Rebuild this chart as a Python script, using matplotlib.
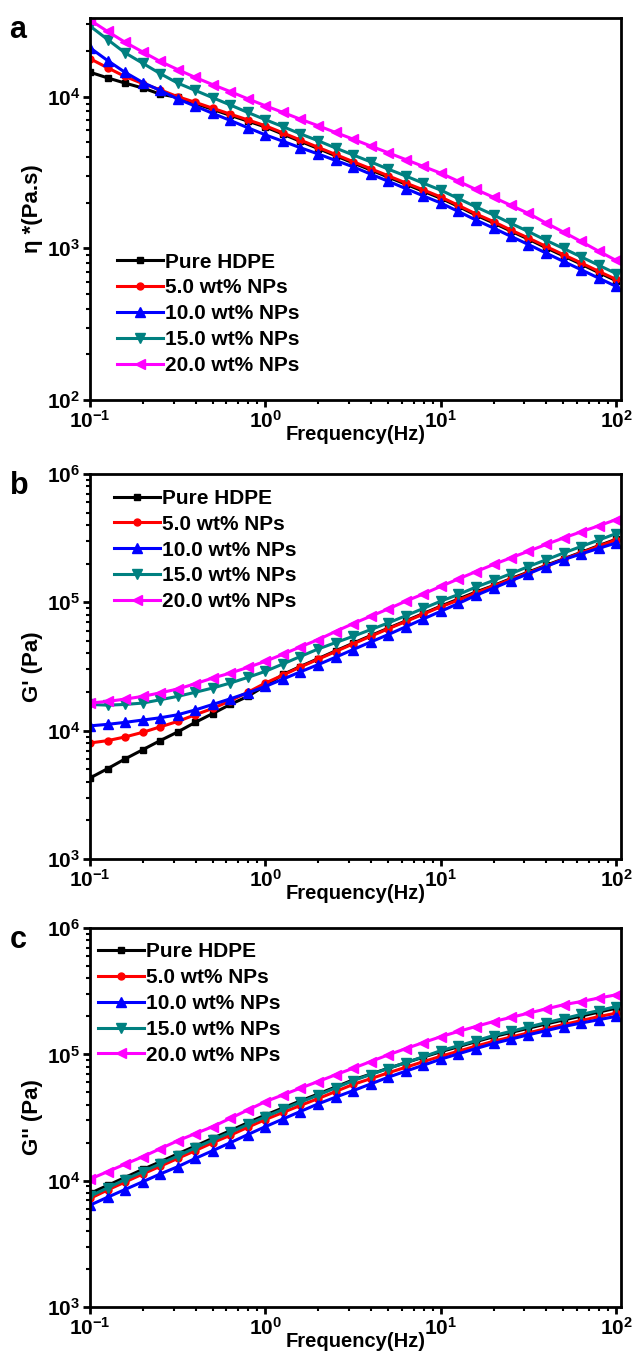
import matplotlib
matplotlib.use("Agg")
import matplotlib.pyplot as plt
import numpy as np
from matplotlib.ticker import LogLocator, NullFormatter

plt.rcParams['font.family'] = ['Liberation Sans', 'DejaVu Sans']
plt.rcParams['font.weight'] = 'bold'
plt.rcParams['mathtext.fontset'] = 'custom'
plt.rcParams['mathtext.rm'] = 'Liberation Sans:bold'
plt.rcParams['mathtext.bf'] = 'Liberation Sans:bold'
plt.rcParams['mathtext.default'] = 'bf'

# frequency sweep (Hz), 10 points per decade
freq = [0.1, 0.126, 0.158, 0.2, 0.251, 0.316, 0.398, 0.501, 0.631, 0.794,
        1.0, 1.26, 1.58, 2.0, 2.51, 3.16, 3.98, 5.01, 6.31, 7.94,
        10.0, 12.6, 15.8, 20.0, 25.1, 31.6, 39.8, 50.1, 63.1, 79.4, 100.0]

labels = ['Pure HDPE', '5.0 wt% NPs', '10.0 wt% NPs', '15.0 wt% NPs', '20.0 wt% NPs']
colors = ['black', '#ff0000', '#0000ff', '#008080', '#ff00ff']
markers = ['s', 'o', '^', 'v', '<']

# complex viscosity (Pa.s)
eta_pure = [14500, 13300, 12300, 11400, 10400, 9890, 9020, 8240, 7530, 6900,
            6310, 5660, 5080, 4550, 4080, 3660, 3290, 2950, 2650, 2380,
            2140, 1890, 1660, 1470, 1300, 1150, 1010, 891, 787, 693, 612]
eta_5 = [17800, 15500, 13600, 12200, 11100, 10000, 9180, 8390, 7670, 7030,
         6430, 5770, 5180, 4630, 4160, 3730, 3350, 3010, 2700, 2430,
         2180, 1920, 1690, 1500, 1320, 1170, 1030, 908, 802, 706, 624]
eta_10 = [21000, 17300, 14500, 12400, 11000, 9660, 8670, 7760, 6970, 6240,
          5600, 5080, 4610, 4190, 3800, 3450, 3090, 2770, 2480, 2220,
          1990, 1750, 1540, 1360, 1200, 1060, 931, 820, 723, 637, 561]
eta_15 = [29200, 23800, 19500, 16600, 14200, 12300, 11000, 9840, 8810, 7870,
          7050, 6340, 5690, 5120, 4590, 4130, 3720, 3330, 3000, 2690,
          2420, 2130, 1880, 1660, 1460, 1290, 1130, 998, 879, 774, 682]
eta_20 = [32000, 26900, 22900, 19700, 17100, 15100, 13400, 12000, 10800, 9680,
          8710, 7870, 7110, 6430, 5810, 5250, 4730, 4270, 3850, 3470,
          3130, 2770, 2450, 2170, 1920, 1700, 1470, 1280, 1110, 959, 832]

# storage modulus G' (Pa)
gp_pure = [4280, 5060, 6010, 7110, 8360, 9770, 11600, 13600, 16000, 18500,
           22400, 27400, 31600, 36400, 41800, 48000, 55000, 62800, 71600, 81700,
           93300, 106000, 120000, 135000, 153000, 172000, 194000, 218000, 245000, 276000, 310000]
gp_5 = [8020, 8360, 8930, 9710, 10700, 11800, 13300, 14900, 17100, 19900,
        23500, 27100, 31300, 36000, 41300, 47400, 54300, 62100, 70800, 80800,
        92300, 104000, 118000, 134000, 151000, 170000, 192000, 216000, 243000, 273000, 307000]
gp_10 = [10900, 11200, 11600, 12100, 12600, 13300, 14500, 16000, 17700, 19700,
         22100, 25200, 28700, 32700, 37300, 42800, 49000, 56000, 64400, 74100,
         85100, 97900, 113000, 129000, 147000, 167000, 190000, 215000, 238000, 263000, 290000]
gp_15 = [16000, 15800, 16000, 16400, 17400, 18500, 19900, 21500, 23500, 26000,
         29000, 33100, 37800, 43300, 48500, 54300, 61200, 69000, 78500, 89500,
         102000, 115000, 131000, 148000, 167000, 190000, 214000, 242000, 272000, 305000, 343000]
gp_20 = [16400, 16900, 17600, 18500, 19700, 21100, 23200, 25700, 28100, 31100,
         34700, 39400, 44900, 51200, 59200, 68200, 77800, 88700, 102000, 116000,
         133000, 152000, 173000, 197000, 222000, 250000, 282000, 317000, 354000, 394000, 441000]

# loss modulus G'' (Pa)
gpp_pure = [7940, 9180, 10600, 12300, 14100, 16300, 18800, 21700, 24900, 28800,
            33100, 37700, 42800, 48600, 55200, 62800, 69800, 77600, 85900, 95100,
            105000, 115000, 126000, 138000, 149000, 161000, 174000, 187000, 201000, 216000, 232000]
gpp_5 = [7240, 8450, 9750, 11300, 13000, 15000, 17300, 20000, 22900, 26500,
         30500, 34700, 39400, 44700, 50800, 57800, 64200, 71400, 79000, 87500,
         96600, 106000, 116000, 127000, 137000, 148000, 160000, 172000, 185000, 199000, 212000]
gpp_10 = [6410, 7400, 8510, 9820, 11300, 12900, 15000, 17300, 20000, 23200,
          26800, 30800, 35300, 40600, 45800, 51600, 58300, 65900, 73600, 82000,
          91600, 101000, 111000, 122000, 132000, 143000, 154000, 166000, 177000, 188000, 200000]
gpp_15 = [7550, 8780, 10200, 11800, 13600, 15700, 18200, 21000, 24100, 27900,
          32100, 36700, 41800, 47600, 54300, 61900, 69300, 77300, 86000, 95700,
          107000, 117000, 128000, 141000, 152000, 165000, 178000, 192000, 207000, 222000, 239000]
gpp_20 = [10300, 11800, 13500, 15500, 17900, 20700, 23600, 26800, 31200, 36300,
          42300, 47800, 54000, 61000, 68900, 77600, 87700, 99100, 111000, 124000,
          138000, 152000, 166000, 182000, 196000, 212000, 229000, 247000, 262000, 279000, 296000]

panels = [
    ('a', [eta_pure, eta_5, eta_10, eta_15, eta_20], 'η *(Pa.s)', (1e2, 3.3e4),
     [0.705, 0.2817], (0.015, 0.435)),
    ('b', [gp_pure, gp_5, gp_10, gp_15, gp_20], "G' (Pa)", (1e3, 1e6),
     [0.3665, 0.284], (0.01, 1.01)),
    ('c', [gpp_pure, gpp_5, gpp_10, gpp_15, gpp_20], "G'' (Pa)", (1e3, 1e6),
     [0.0361, 0.2795], (-0.02, 1.012)),
]

fig = plt.figure(figsize=(6.34, 13.56), dpi=100)

for letter, series, ylab, ylim, (bot, h), anchor in panels:
    ax = fig.add_axes([0.142, bot, 0.838, h])
    for ys, lab, c, m in zip(series, labels, colors, markers):
        ms = 5 if m in ('s', 'o') else 6.5
        ax.plot(freq, ys, color=c, marker=m, ms=ms, lw=2.2, label=lab)
    ax.set_xscale('log')
    ax.set_yscale('log')
    ax.set_xlim(0.1, 107)
    ax.set_ylim(*ylim)
    ax.xaxis.set_major_locator(LogLocator(base=10, numticks=10))
    ax.yaxis.set_major_locator(LogLocator(base=10, numticks=10))
    ax.xaxis.set_minor_locator(LogLocator(base=10, subs=np.arange(2, 10), numticks=20))
    ax.yaxis.set_minor_locator(LogLocator(base=10, subs=np.arange(2, 10), numticks=20))
    ax.xaxis.set_minor_formatter(NullFormatter())
    ax.yaxis.set_minor_formatter(NullFormatter())
    for s in ax.spines.values():
        s.set_linewidth(2)
    ax.tick_params(which='major', direction='out', length=5, width=2, labelsize=15, pad=2)
    ax.tick_params(which='minor', direction='out', length=3, width=1.5)
    ax.set_xlabel('Frequency(Hz)', fontsize=14.5, fontweight='bold', labelpad=-5)
    ax.set_ylabel(ylab, fontsize=16, fontweight='bold', labelpad=3)
    ax.legend(loc='upper left', bbox_to_anchor=anchor, frameon=False,
              handlelength=2.2, handletextpad=0.1, labelspacing=0.33,
              prop={'weight': 'bold', 'size': 15})
    fig.text(0.015, bot + h + 0.002, letter, fontsize=22, fontweight='bold',
             va='top', ha='left')

fig.savefig('out.png', dpi=100)
